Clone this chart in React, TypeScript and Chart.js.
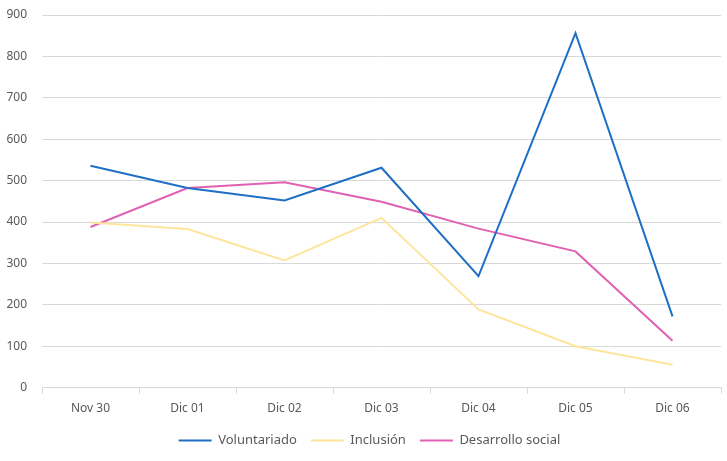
import React, { useEffect, useRef } from "react";
import { Chart, registerables } from "chart.js";

Chart.register(...registerables);

const categories = ["Nov 30", "Dic 01", "Dic 02", "Dic 03", "Dic 04", "Dic 05", "Dic 06"];
const voluntariado = [536, 482, 452, 531, 269, 856, 172];
const inclusion = [399, 383, 307, 410, 189, 100, 55];
const desarrolloSocial = [388, 482, 496, 449, 384, 329, 113];
const yTicks = [0, 100, 200, 300, 400, 500, 600, 700, 800, 900];

const FONT = "'Noto Sans', sans-serif";

const shiftLegend = {
  id: "shiftLegend",
  afterLayout(chart: any) {
    if (chart.legend) {
      chart.legend.left += 9;
      chart.legend.right += 9;
    }
  },
};

export default function App() {
  const ref = useRef<HTMLCanvasElement | null>(null);
  useEffect(() => {
    document.body.style.margin = "0";
    const ctx = ref.current!;
    const chart = new Chart(ctx, {
      type: "line",
      data: {
        labels: categories,
        datasets: [
          { label: "Voluntariado", data: voluntariado, borderColor: "#1f6fc5", backgroundColor: "#1f6fc5" },
          { label: "Inclusión", data: inclusion, borderColor: "#fde59b", backgroundColor: "#fde59b" },
          { label: "Desarrollo social", data: desarrolloSocial, borderColor: "#e060b4", backgroundColor: "#e060b4" },
        ].map((d) => ({ ...d, borderWidth: 2, pointRadius: 0, tension: 0, fill: false })),
      },
      plugins: [shiftLegend],
      options: {
        animation: false,
        responsive: false,
        devicePixelRatio: 1,
        layout: { padding: { top: 15, right: 6, left: 0, bottom: 4 } },
        plugins: {
          tooltip: { enabled: false },
          legend: {
            position: "bottom",
            labels: {
              color: "#595959",
              font: { family: FONT, size: 13 },
              boxWidth: 33,
              boxHeight: 2,
              padding: 14,
              generateLabels: (c: any) =>
                Chart.defaults.plugins.legend.labels.generateLabels(c).map((l: any) => ({ ...l, lineWidth: 0 })),
            },
          },
        },
        scales: {
          x: {
            offset: true,
            afterFit: (s: any) => {
              s.height = s.height - 4;
            },
            grid: { offset: true, drawOnChartArea: false, drawTicks: true, tickLength: 6, color: "#d9d9d9" },
            border: { display: true, color: "#d9d9d9" },
            ticks: { color: "#595959", font: { family: FONT, size: 12 }, padding: 8, maxRotation: 0 },
          },
          y: {
            min: 0,
            max: 900,
            afterBuildTicks: (s: any) => {
              s.ticks = yTicks.map((v) => ({ value: v }));
            },
            afterFit: (s: any) => {
              s.width = 42;
            },
            grid: { drawTicks: true, tickLength: 15, tickColor: "rgba(0,0,0,0)", color: "#d9d9d9" },
            border: { display: false },
            ticks: { color: "#595959", font: { family: FONT, size: 12 }, padding: 0 },
          },
        },
      },
    });
    return () => chart.destroy();
  }, []);
  return (
    <div style={{ position: "absolute", left: 0, top: 0, width: 727, height: 461, background: "#fff" }}>
      <canvas ref={ref} width={727} height={461} />
    </div>
  );
}
